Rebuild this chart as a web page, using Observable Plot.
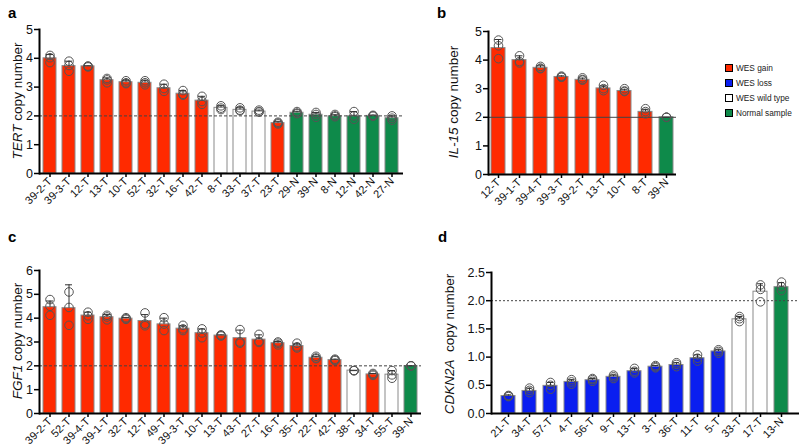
<!DOCTYPE html>
<html><head><meta charset="utf-8">
<script src="https://cdn.jsdelivr.net/npm/d3@7"></script>
<script src="https://cdn.jsdelivr.net/npm/@observablehq/plot@0.6"></script>
<style>
body{margin:0;background:#fff;font-family:"Liberation Sans",Arial,sans-serif;}
#root{position:relative;width:800px;height:448px;overflow:hidden;background:#fff;}
.panel{position:absolute;}
.letter{position:absolute;font-weight:bold;font-size:15px;line-height:1;color:#000;}
.ylab{position:absolute;font-size:13.5px;transform:translate(-50%,-50%) rotate(-90deg);white-space:nowrap;color:#111;}
.leg{position:absolute;left:725px;width:74px;font-size:8.3px;color:#222;white-space:nowrap;}
.leg div{height:15px;display:flex;align-items:center;white-space:nowrap;}
.leg span.sw{display:inline-block;flex:none;width:6px;height:6px;border:1px solid #000;margin-right:3px;}
</style></head>
<body><div id="root"></div>
<script>
// ---------- Panel a: TERT ----------
const aCats = ["39-2-T","39-3-T","12-T","13-T","10-T","52-T","32-T","16-T","42-T","8-T","33-T","37-T","23-T","29-N","39-N","8-N","12-N","42-N","27-N"];
const aStatus = ["gain","gain","gain","gain","gain","gain","gain","gain","gain","wt","wt","wt","gain","normal","normal","normal","normal","normal","normal"];
const aMean = [4.0,3.73,3.72,3.24,3.17,3.15,2.96,2.77,2.53,2.28,2.21,2.15,1.75,2.11,2.04,1.99,1.99,2.0,1.92];
const aErr  = [4.13,3.9,3.74,3.32,3.24,3.24,3.1,2.88,2.68,2.35,2.28,2.2,1.8,2.16,2.12,2.04,2.15,2.03,2.0];
const aRep1 = [4.1,3.9,3.72,3.3,3.22,3.22,3.1,2.88,2.68,2.35,2.28,2.2,1.78,2.15,2.12,2.05,2.15,2.02,2.0];
const aRep2 = [4.02,3.75,3.7,3.25,3.15,3.15,2.95,2.75,2.5,2.27,2.2,2.15,1.75,2.1,2.05,2.0,2.0,2.0,1.92];
const aRep3 = [3.85,3.55,3.73,3.15,3.12,3.08,2.85,2.72,2.4,2.22,2.18,2.13,1.72,2.08,1.95,1.97,1.88,1.99,1.85];

// ---------- Panel b: IL-15 ----------
const bCats = ["12-T","39-1-T","39-4-T","39-3-T","39-2-T","13-T","10-T","8-T","39-N"];
const bStatus = ["gain","gain","gain","gain","gain","gain","gain","gain","normal"];
const bMean = [4.42,4.0,3.73,3.41,3.31,3.01,2.92,2.19,2.0];
const bErr  = [4.72,4.15,3.8,3.45,3.37,3.1,2.98,2.28,2.0];
const bRep1 = [4.7,4.15,3.78,3.44,3.38,3.12,3.0,2.3,2.0];
const bRep2 = [4.5,3.95,3.72,3.41,3.32,3.0,2.92,2.2,2.0];
const bRep3 = [4.05,3.9,3.7,3.4,3.3,2.93,2.9,2.12,2.0];

// ---------- Panel c: FGF1 ----------
const cCats = ["39-2-T","52-T","39-4-T","39-1-T","32-T","12-T","49-T","39-3-T","10-T","13-T","43-T","27-T","16-T","35-T","22-T","42-T","38-T","34-T","55-T","39-N"];
const cStatus = ["gain","gain","gain","gain","gain","gain","gain","gain","gain","gain","gain","gain","gain","gain","gain","gain","wt","gain","wt","normal"];
const cMean = [4.46,4.42,4.11,4.04,3.98,3.88,3.74,3.56,3.37,3.27,3.16,3.1,2.95,2.83,2.34,2.24,1.8,1.64,1.63,1.99];
const cErr  = [4.72,5.4,4.25,4.15,4.03,4.15,4.0,3.68,3.55,3.3,3.5,3.3,3.02,2.92,2.4,2.28,1.8,1.68,1.8,2.0];
const cRep1 = [4.78,5.1,4.25,4.12,4.02,4.22,4.02,3.7,3.55,3.3,3.52,3.32,3.0,2.95,2.4,2.28,1.8,1.68,1.8,2.0];
const cRep2 = [4.5,4.45,4.1,4.05,3.98,3.75,3.75,3.55,3.38,3.27,3.0,3.02,2.95,2.8,2.33,2.25,1.8,1.64,1.62,2.0];
const cRep3 = [4.12,3.7,3.95,3.93,3.95,3.68,3.48,3.48,3.18,3.25,2.95,2.98,2.88,2.75,2.3,2.22,1.8,1.6,1.48,2.0];

// ---------- Panel d: CDKN2A ----------
const dCats = ["21-T","34-T","57-T","4-T","56-T","9-T","13-T","3-T","36-T","11-T","5-T","33-T","17-T","13-N"];
const dStatus = ["loss","loss","loss","loss","loss","loss","loss","loss","loss","loss","loss","wt","wt","normal"];
const dMean = [0.31,0.40,0.49,0.56,0.59,0.65,0.75,0.83,0.86,0.98,1.10,1.67,2.16,2.24];
const dErr  = [0.33,0.45,0.55,0.6,0.62,0.68,0.8,0.85,0.9,1.04,1.13,1.72,2.3,2.32];
const dRep1 = [0.32,0.45,0.55,0.6,0.62,0.68,0.8,0.85,0.9,1.04,1.13,1.72,2.28,2.33];
const dRep2 = [0.31,0.41,0.5,0.56,0.6,0.65,0.75,0.83,0.87,0.98,1.1,1.68,2.2,2.25];
const dRep3 = [0.3,0.37,0.43,0.52,0.57,0.62,0.72,0.81,0.83,0.93,1.07,1.63,1.98,2.18];

const statusKeys = ["gain","loss","wt","normal"];
const statusNames = ["WES gain","WES loss","WES wild type","Normal sample"];
const statusColors = ["#ff2a00","#0a1ef0","#ffffff","#0e8a4a"];

const root = document.getElementById("root");

function panel(o) {
  const rows = o.cats.map((c, i) => ({cat: c, status: o.status[i], mean: o.mean[i], err: o.err[i]}));
  const pts = [];
  o.cats.forEach((c, i) => { [o.r1[i], o.r2[i], o.r3[i]].forEach(v => pts.push({cat: c, v})); });
  const svg = Plot.plot({
    width: o.width, height: o.height,
    marginTop: o.mt, marginBottom: o.mb, marginLeft: o.ml, marginRight: o.mr,
    style: {fontFamily: "'Liberation Sans', Arial, sans-serif", fontSize: "11px", color: "#111", background: "transparent", overflow: "visible"},
    x: {type: "band", domain: o.cats, paddingInner: o.pi, paddingOuter: o.po, label: null},
    y: {domain: o.yDomain, label: null},
    color: {domain: statusKeys, range: statusColors},
    marks: [
      Plot.barY(rows, {x: "cat", y: "mean", fill: "status", stroke: "#8a8a8a", strokeWidth: 1}),
      Plot.ruleY([2], {stroke: "#444", strokeWidth: 1, strokeDasharray: o.dash}),
      Plot.dot(pts, {x: "cat", y: "v", r: 4.3, stroke: "#555", fill: "none", strokeWidth: 1}),
      Plot.ruleX(rows, {x: "cat", y1: "mean", y2: "err", stroke: "#333", strokeWidth: 1}),
      Plot.tickY(rows, {x: "cat", y: "err", stroke: "#333", strokeWidth: 1, insetLeft: o.cap, insetRight: o.cap}),
      Plot.axisY({ticks: o.yTicks, tickFormat: o.fmt, tickSize: 5, tickPadding: 1.5, fontSize: 12.5, label: null, stroke: "#000", strokeWidth: 1.5}),
      Plot.axisX({tickSize: 4, tickPadding: 2, tickRotate: -45, fontSize: 11, label: null, stroke: "#000", strokeWidth: 1.5}),
      Plot.ruleY([o.yDomain[0]], {stroke: "#000", strokeWidth: 2}),
      Plot.frame({anchor: "left", stroke: "#000", strokeWidth: 2})
    ]
  });
  const wrap = document.createElement("div");
  wrap.className = "panel";
  wrap.style.left = o.left + "px";
  wrap.style.top = o.top + "px";
  wrap.appendChild(svg);
  root.appendChild(wrap);

  const lab = document.createElement("div");
  lab.className = "ylab";
  lab.style.left = o.labX + "px";
  lab.style.top = o.labY + "px";
  lab.innerHTML = o.ylabel;
  root.appendChild(lab);

  const let_ = document.createElement("div");
  let_.className = "letter";
  let_.style.left = o.letX + "px";
  let_.style.top = o.letY + "px";
  let_.textContent = o.letter;
  root.appendChild(let_);
}

panel({cats: aCats, status: aStatus, mean: aMean, err: aErr, r1: aRep1, r2: aRep2, r3: aRep3,
  left: 0, top: 0, width: 410, height: 220, mt: 29, mb: 47, ml: 39, mr: 7,
  pi: 0.31, po: 0.07, yDomain: [0, 5], yTicks: [0,1,2,3,4,5], fmt: d3.format("d"), dash: "3,2", cap: 3,
  ylabel: "<i>TERT</i> copy number", labX: 17, labY: 101, letter: "a", letX: 8, letY: 5});

panel({cats: bCats, status: bStatus, mean: bMean, err: bErr, r1: bRep1, r2: bRep2, r3: bRep3,
  left: 420, top: 0, width: 260, height: 220, mt: 31, mb: 46, ml: 68, mr: 4,
  pi: 0.33, po: 0.14, yDomain: [0, 5], yTicks: [0,1,2,3,4,5], fmt: d3.format("d"), dash: null, cap: 3.5,
  ylabel: "<i>IL-15</i> copy number", labX: 453, labY: 102, letter: "b", letX: 437, letY: 5});

panel({cats: cCats, status: cStatus, mean: cMean, err: cErr, r1: cRep1, r2: cRep2, r3: cRep3,
  left: 0, top: 220, width: 425, height: 228, mt: 50, mb: 35, ml: 39, mr: 4,
  pi: 0.31, po: 0.086, yDomain: [0, 6], yTicks: [0,1,2,3,4,5,6], fmt: d3.format("d"), dash: "3,2", cap: 3,
  ylabel: "<i>FGF1</i> copy number", labX: 17, labY: 341, letter: "c", letX: 8, letY: 229});

panel({cats: dCats, status: dStatus, mean: dMean, err: dErr, r1: dRep1, r2: dRep2, r3: dRep3,
  left: 420, top: 220, width: 380, height: 228, mt: 52, mb: 35, ml: 71, mr: 1,
  pi: 0.32, po: 0.17, yDomain: [0, 2.5], yTicks: [0,0.5,1,1.5,2,2.5], fmt: d3.format(".1f"), dash: "2,2", cap: 4,
  ylabel: "<i>CDKN2A</i>&nbsp; copy number", labX: 449, labY: 344, letter: "d", letX: 438, letY: 229});

// legend
const leg = document.createElement("div");
leg.className = "leg";
leg.style.top = "60px";
statusKeys.forEach((k, i) => {
  const row = document.createElement("div");
  row.innerHTML = `<span class="sw" style="background:${statusColors[i]}"></span>${statusNames[i]}`;
  leg.appendChild(row);
});
root.appendChild(leg);
</script>
</body></html>
